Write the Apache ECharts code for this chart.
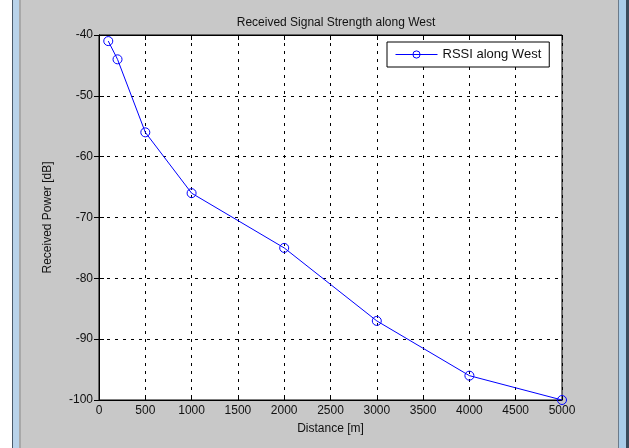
<!DOCTYPE html>
<html>
<head>
<meta charset="utf-8">
<script src="https://cdn.jsdelivr.net/npm/echarts@6/dist/echarts.min.js"></script>
<style>
  html, body { margin: 0; padding: 0; width: 629px; height: 448px; overflow: hidden; background: #ffffff; }
  .frame { position: absolute; left: 12px; top: 0; width: 615px; height: 448px; background: #c8c8c8; }
  .edgeL { position: absolute; left: 12px; top: 0; width: 1px; height: 448px; background: #4a5a6a; }
  .stripL { position: absolute; left: 13px; top: 0; width: 6px; height: 448px; background: #b9d3ea; }
  .shadeL { position: absolute; left: 19px; top: 0; width: 2px; height: 448px; background: #a8a8a8; }
  .edgeR { position: absolute; left: 618px; top: 0; width: 1px; height: 448px; background: #6a7a8a; }
  .stripR { position: absolute; left: 619px; top: 0; width: 7px; height: 448px; background: #a9cce8; }
  .edgeR2 { position: absolute; left: 626px; top: 0; width: 3px; height: 448px; background: #3a4a5a; }
  #chart { position: absolute; left: 0; top: 0; width: 629px; height: 448px; }
</style>
</head>
<body>
<div class="frame"></div>
<div class="edgeL"></div>
<div class="stripL"></div>
<div class="shadeL"></div>
<div class="edgeR"></div>
<div class="stripR"></div>
<div class="edgeR2"></div>
<div id="chart"></div>
<script>
// distance in metres and received power in dB
const distance = [100, 200, 500, 1000, 2000, 3000, 4000, 5000]
const rssiWest = [-41, -44, -56, -66, -75, -87, -96, -100]

const chart = echarts.init(document.getElementById('chart'))
const font = 'Liberation Sans, Arial, sans-serif'
const tickStyle = { color: '#000', width: 1 }

const option = {
  backgroundColor: 'transparent',
  animation: false,
  title: {
    text: 'Received Signal Strength along West',
    left: 331,
    top: 12,
    textAlign: 'center',
    textStyle: { fontFamily: font, fontSize: 12, fontWeight: 'normal', color: '#111' }
  },
  grid: {
    left: 99,
    top: 35,
    right: 67,
    bottom: 48,
    show: true,
    backgroundColor: '#fff',
    borderColor: '#000',
    borderWidth: 1
  },
  legend: {
    left: 387,
    top: 42,
    orient: 'vertical',
    backgroundColor: '#fff',
    borderColor: '#000',
    borderWidth: 1,
    padding: [6, 8, 6, 8],
    itemWidth: 42,
    itemHeight: 9,
    textStyle: { fontFamily: font, fontSize: 13, color: '#111' },
    itemStyle: { color: 'none', borderColor: '#0000ff', borderWidth: 1 },
    lineStyle: { color: '#0000ff', width: 1 },
    data: ['RSSI along West']
  },
  xAxis: [{
    type: 'value',
    min: 0,
    max: 5000,
    interval: 500,
    name: 'Distance [m]',
    nameLocation: 'middle',
    nameGap: 23,
    nameTextStyle: { fontFamily: font, fontSize: 12, color: '#111' },
    axisLine: { lineStyle: { color: '#000' } },
    axisTick: { inside: true, length: 5, lineStyle: tickStyle },
    axisLabel: { margin: 5, fontFamily: font, fontSize: 12, color: '#111', formatter: v => String(v) },
    splitLine: { show: true, lineStyle: { color: '#000', type: [3, 5], width: 1 } }
  }, {
    type: 'value',
    position: 'top',
    min: 0,
    max: 5000,
    interval: 500,
    axisLine: { show: true, lineStyle: { color: '#000' } },
    axisTick: { show: true, inside: true, length: 5, lineStyle: tickStyle },
    axisLabel: { show: false },
    splitLine: { show: false }
  }],
  yAxis: [{
    type: 'value',
    min: -100,
    max: -40,
    interval: 10,
    name: 'Received Power [dB]',
    nameLocation: 'middle',
    nameGap: 45,
    nameTextStyle: { fontFamily: font, fontSize: 12, color: '#111' },
    axisLine: { show: true, lineStyle: { color: '#000' } },
    axisTick: { show: true, inside: true, length: 5, lineStyle: tickStyle },
    axisLabel: { margin: 6, fontFamily: font, fontSize: 12, color: '#111' },
    splitLine: { show: true, lineStyle: { color: '#000', type: [3, 5], width: 1 } }
  }, {
    type: 'value',
    position: 'right',
    min: -100,
    max: -40,
    interval: 10,
    axisLine: { show: true, lineStyle: { color: '#000' } },
    axisTick: { show: true, inside: true, length: 5, lineStyle: tickStyle },
    axisLabel: { show: false },
    splitLine: { show: false }
  }],
  series: [{
    name: 'RSSI along West',
    type: 'line',
    clip: false,
    data: distance.map((d, i) => [d, rssiWest[i]]),
    symbol: 'circle',
    symbolSize: 9,
    color: '#0000ff',
    lineStyle: { color: '#0000ff', width: 1 },
    itemStyle: { color: 'none', borderColor: '#0000ff', borderWidth: 1 }
  }]
}
chart.setOption(option)
</script>
</body>
</html>
